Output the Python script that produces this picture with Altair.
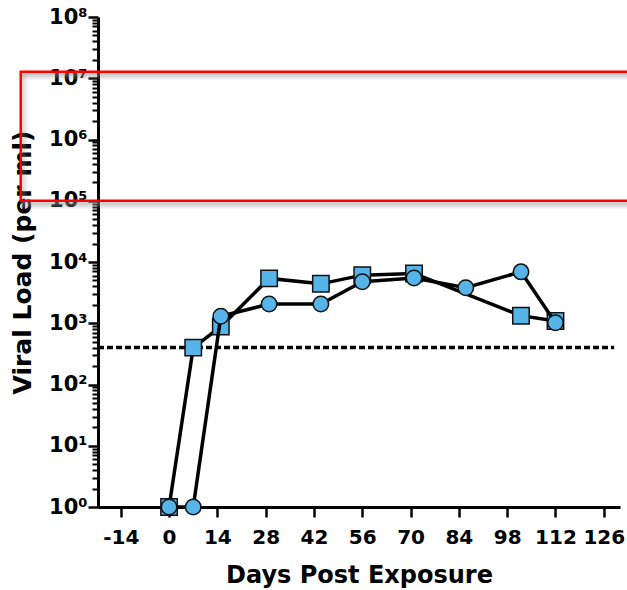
import altair as alt
import pandas as pd

# ---- data ----
sq_days = [0, 7, 15, 29, 44, 56, 71, 102, 112]
sq_vals = [1, 400, 880, 5400, 4400, 6100, 6500, 1330, 1090]
ci_days = [0, 7, 15, 29, 44, 56, 71, 86, 102, 112]
ci_vals = [1, 1, 1300, 2060, 2060, 4770, 5480, 3800, 6900, 1020]
lod_value = 400
lod_days = [-20.6, 129]
x_ticks = [-14, 0, 14, 28, 42, 56, 70, 84, 98, 112, 126]
y_major = [10 ** k for k in range(0, 9)]
y_minor = [m * 10 ** k for k in range(0, 8) for m in range(2, 10)]
box_days = [-43, 135]
box_loads = [1e5, 1.28e7]

FONT = "DejaVu Sans"
BLUE = "#56B4E9"

xs = alt.Scale(domain=[-20.6, 130.7], nice=False, zero=False)
ys = alt.Scale(type="log", domain=[1, 1e8], nice=False)

sq_df = pd.DataFrame({"day": sq_days, "load": sq_vals})
ci_df = pd.DataFrame({"day": ci_days, "load": ci_vals})
lod_df = pd.DataFrame({"d0": [lod_days[0]], "d1": [lod_days[1]], "load": [lod_value]})
box_df = pd.DataFrame({"d0": [box_days[0]], "d1": [box_days[1]],
                       "l0": [box_loads[0]], "l1": [box_loads[1]]})
edge_df = pd.DataFrame({"d0": [box_days[0]] * 2, "d1": [box_days[1]] * 2, "l": box_loads})

is_major = "abs(log(datum.value)/LN10 - round(log(datum.value)/LN10)) < 1e-6"
sup = "['\u2070','\u00b9','\u00b2','\u00b3','\u2074','\u2075','\u2076','\u2077','\u2078']"

x_axis = alt.Axis(
    values=x_ticks, title="Days Post Exposure", grid=False,
    labelExpr="toString(datum.value)",
    tickSize=10, tickWidth=2.5, tickColor="black",
    domainWidth=3, domainColor="black",
    labelFont=FONT, labelFontWeight="bold", labelFontSize=20, labelColor="black",
    labelPadding=10, labelFlush=False, labelOverlap=False,
    titleFont=FONT, titleFontWeight="bold", titleFontSize=24, titleColor="black",
    titlePadding=16,
)
y_axis = alt.Axis(
    values=y_major + y_minor, title="Viral Load (per ml)", grid=False,
    tickSize={"condition": {"test": is_major, "value": 10}, "value": 6},
    tickWidth={"condition": {"test": is_major, "value": 2.5}, "value": 2},
    tickColor="black", domainWidth=3, domainColor="black",
    labelExpr=f"({is_major}) ? '10' + {sup}[round(log(datum.value)/LN10)] : ''",
    labelFont=FONT, labelFontWeight="bold", labelFontSize=21, labelColor="black",
    labelPadding=1, labelFlush=False, labelOverlap=False,
    titleFont=FONT, titleFontWeight="bold", titleFontSize=25, titleColor="black",
    titlePadding=13,
)


def X(field):
    return alt.X(field, scale=xs, axis=x_axis)


def Y(field):
    return alt.Y(field, scale=ys, axis=y_axis)


shade_v = alt.LinearGradient(
    gradient="linear",
    stops=[alt.GradientStop(offset=0, color="rgba(150,150,150,0.6)"),
           alt.GradientStop(offset=1, color="rgba(150,150,150,0)")],
    x1=0, x2=0, y1=0, y2=1)
shade_h = alt.LinearGradient(
    gradient="linear",
    stops=[alt.GradientStop(offset=0, color="rgba(150,150,150,0.4)"),
           alt.GradientStop(offset=1, color="rgba(150,150,150,0)")],
    x1=0, x2=1, y1=0, y2=0)

shadow_h = alt.Chart(edge_df).mark_rect(fill=shade_v, yOffset=1.5, y2Offset=9).encode(
    x=X("d0:Q"), x2="d1:Q", y=Y("l:Q"), y2="l:Q")
shadow_v = alt.Chart(box_df).mark_rect(fill=shade_h, xOffset=1.5, x2Offset=8).encode(
    x=X("d0:Q"), x2="d0:Q", y=Y("l0:Q"), y2="l1:Q")
box = alt.Chart(box_df).mark_rect(fill="transparent", stroke="#ff0000", strokeWidth=2.5).encode(
    x=X("d0:Q"), x2="d1:Q", y=Y("l0:Q"), y2="l1:Q")

lod = alt.Chart(lod_df).mark_rule(color="black", strokeWidth=3.5, strokeDash=[6, 3]).encode(
    x=X("d0:Q"), x2="d1:Q", y=Y("load:Q"))

sq_line = alt.Chart(sq_df).mark_line(color="black", strokeWidth=3.5).encode(
    x=X("day:Q"), y=Y("load:Q"))
sq_pts = alt.Chart(sq_df).mark_point(shape="square", filled=True, fill=BLUE, stroke="#111111",
                                     strokeWidth=1.5, size=270, opacity=1).encode(
    x=X("day:Q"), y=Y("load:Q"))
ci_line = alt.Chart(ci_df).mark_line(color="black", strokeWidth=3.5).encode(
    x=X("day:Q"), y=Y("load:Q"))
ci_pts = alt.Chart(ci_df).mark_point(shape="circle", filled=True, fill=BLUE, stroke="#111111",
                                     strokeWidth=1.5, size=240, opacity=1).encode(
    x=X("day:Q"), y=Y("load:Q"))

chart = alt.layer(shadow_h, shadow_v, box, lod, sq_line, sq_pts, ci_line, ci_pts).properties(
    width=522, height=490,
    padding={"left": 98, "top": 17, "right": 7, "bottom": 83},
    autosize=alt.AutoSizeParams(type="none"),
    background="white",
).configure_view(stroke=None)

chart.save("out.html", embed_options={"renderer": "svg", "actions": False})
